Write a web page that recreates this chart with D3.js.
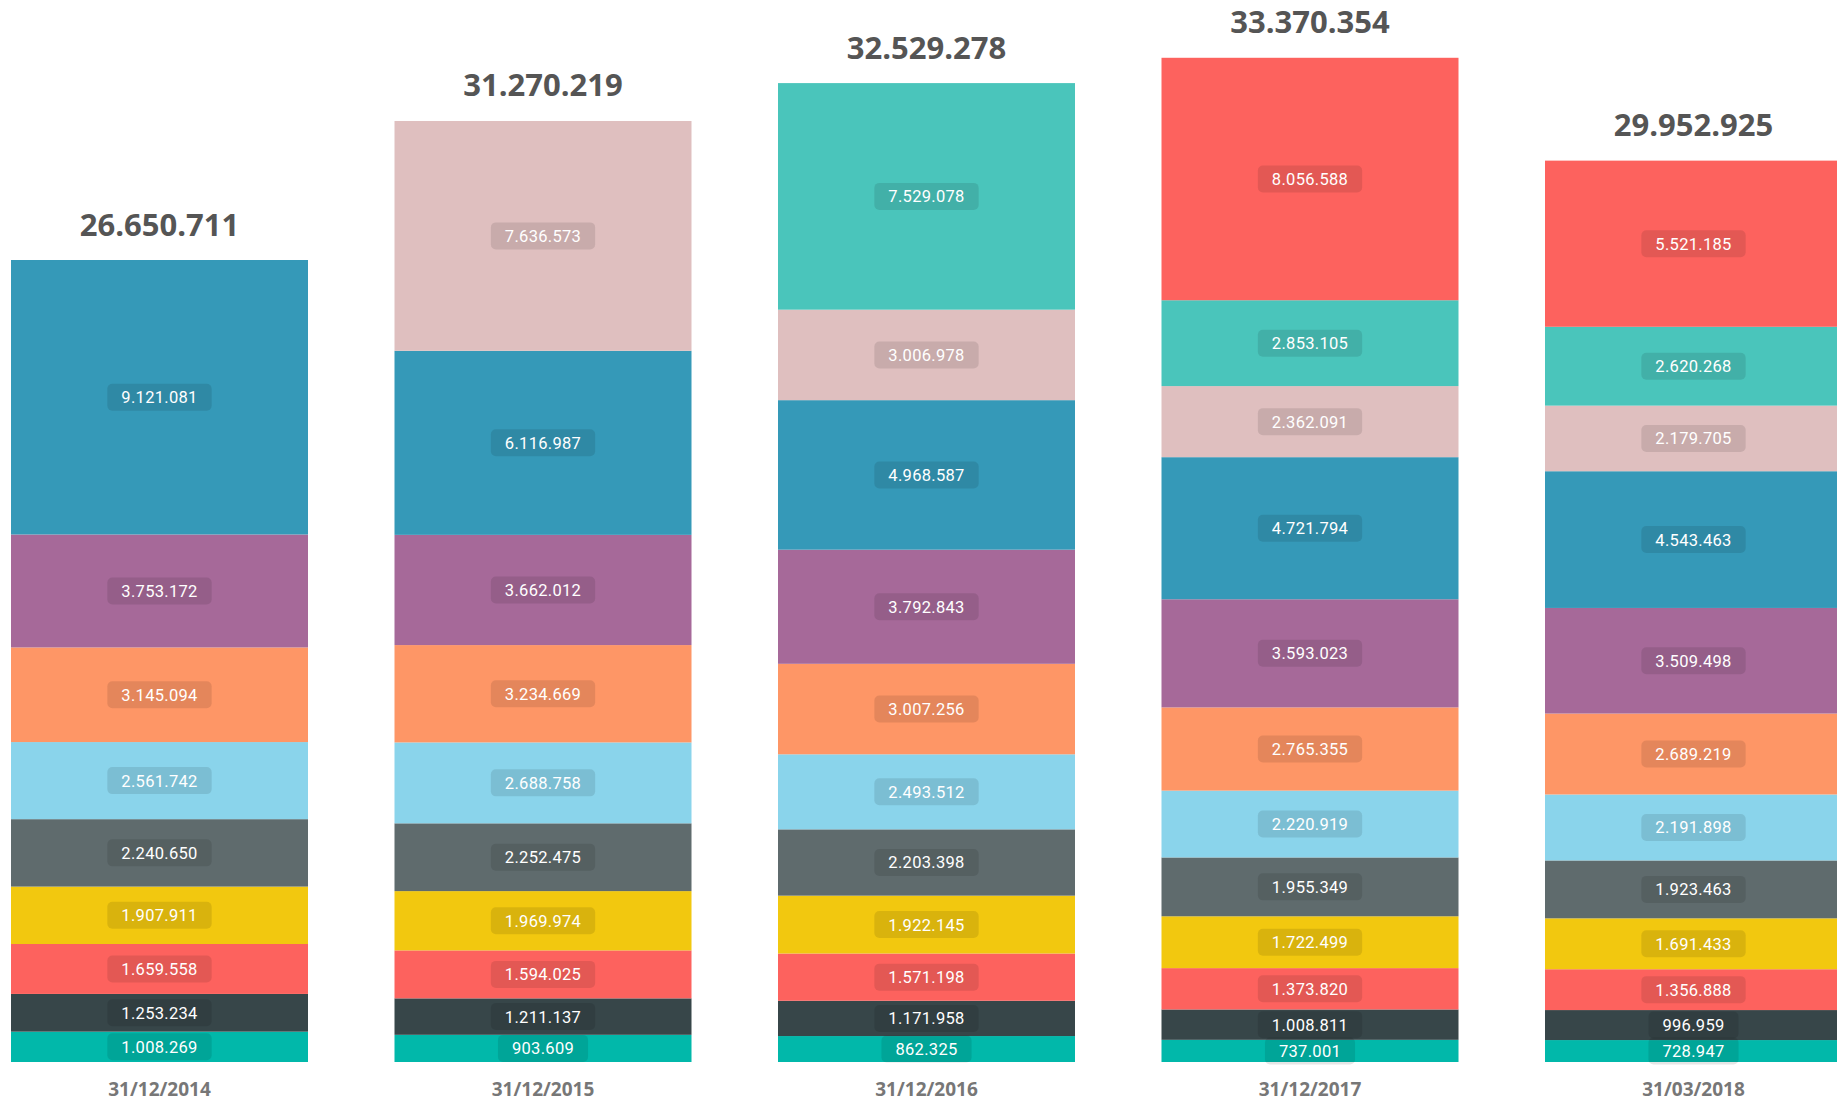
<!DOCTYPE html>
<html>
<head>
<meta charset="utf-8">
<script src="https://cdn.jsdelivr.net/npm/d3@7"></script>
<style>
  body { margin: 0; background: #fff; overflow: hidden; }
</style>
</head>
<body>
<div id="chart-area"></div>
<script>

// Data (bottom segment first)
let dates = ["31/12/2014", "31/12/2015", "31/12/2016", "31/12/2017", "31/03/2018"];
let totals = [26650711, 31270219, 32529278, 33370354, 29952925];

let serie1  = [1008269, 903609, 862325, 737001, 728947];
let serie2  = [1253234, 1211137, 1171958, 1008811, 996959];
let serie3  = [1659558, 1594025, 1571198, 1373820, 1356888];
let serie4  = [1907911, 1969974, 1922145, 1722499, 1691433];
let serie5  = [2240650, 2252475, 2203398, 1955349, 1923463];
let serie6  = [2561742, 2688758, 2493512, 2220919, 2191898];
let serie7  = [3145094, 3234669, 3007256, 2765355, 2689219];
let serie8  = [3753172, 3662012, 3792843, 3593023, 3509498];
let serie9  = [9121081, 6116987, 4968587, 4721794, 4543463];
let serie10 = [0, 7636573, 3006978, 2362091, 2179705];
let serie11 = [0, 0, 7529078, 2853105, 2620268];
let serie12 = [0, 0, 0, 8056588, 5521185];

let seriesList = [serie1, serie2, serie3, serie4, serie5, serie6, serie7, serie8, serie9, serie10, serie11, serie12];
let keys = seriesList.map((s, i) => "s" + (i + 1));

let colors = ["#01B8AA", "#374649", "#FD625E", "#F2C80F", "#5F6B6D", "#8AD4EB",
              "#FE9666", "#A66999", "#3599B8", "#DFBFBF", "#4AC5BB", "#FD625E"];

// Build table for d3.stack
let table = dates.map(function (d, j) {
    let row = {date: d};
    keys.forEach(function (k, i) { row[k] = seriesList[i][j]; });
    return row;
});

let locale = d3.formatLocale({decimal: ",", thousands: ".", grouping: [3], currency: ["", ""]});
let fmt = locale.format(",d");

// SVG drawing area
let width = 1837, height = 1101;

let svg = d3.select("#chart-area").append("svg")
    .attr("width", width)
    .attr("height", height);

// Scales
let step = 383.5, barWidth = 297;
let x = d3.scaleBand()
    .domain(dates)
    .range([11, 11 + step * (dates.length - 1) + barWidth])
    .paddingInner((step - barWidth) / step)
    .paddingOuter(0);

let y = d3.scaleLinear()
    .domain([0, totals[0]])
    .range([1062, 260]);

let stacked = d3.stack().keys(keys)(table);

// Segments
let layers = svg.selectAll(".layer")
    .data(stacked)
    .enter().append("g")
    .attr("class", "layer")
    .attr("fill", (d, i) => colors[i]);

layers.selectAll("rect")
    .data(d => d.filter(p => p[1] - p[0] > 0))
    .enter().append("rect")
    .attr("x", d => x(d.data.date))
    .attr("y", d => y(d[1]))
    .attr("width", x.bandwidth())
    .attr("height", d => y(d[0]) - y(d[1]));

// Segment labels
let labelGroup = svg.append("g").attr("class", "seg-labels");

stacked.forEach(function (layer) {
    layer.forEach(function (p) {
        let v = p[1] - p[0];
        if (v <= 0) return;
        let cx = x(p.data.date) + x.bandwidth() / 2;
        let cy = (y(p[0]) + y(p[1])) / 2;
        let g = labelGroup.append("g");
        let box = g.append("rect")
            .attr("fill", "#000")
            .attr("fill-opacity", 0.1)
            .attr("rx", 5);
        let t = g.append("text")
            .attr("x", cx)
            .attr("y", cy)
            .attr("dy", "0.36em")
            .attr("text-anchor", "middle")
            .style("font-family", "Roboto, sans-serif")
            .style("font-size", "16.5px")
            .style("letter-spacing", "0.3px")
            .attr("fill", "#fff")
            .text(fmt(v));
        let w = t.node().getComputedTextLength() + 28;
        box.attr("x", cx - w / 2)
            .attr("y", cy - 13.5)
            .attr("width", w)
            .attr("height", 27);
    });
});

// Totals
svg.selectAll(".total")
    .data(dates)
    .enter().append("text")
    .attr("class", "total")
    .attr("x", d => x(d) + x.bandwidth() / 2)
    .attr("y", (d, i) => Math.max(y(totals[i]) - 24.5, 33))
    .attr("text-anchor", "middle")
    .style("font-family", "'Open Sans', sans-serif")
    .style("font-weight", "bold")
    .style("font-size", "31px")
    .attr("fill", "#555")
    .text((d, i) => fmt(totals[i]));

// Category axis labels
svg.selectAll(".date-label")
    .data(dates)
    .enter().append("text")
    .attr("class", "date-label")
    .attr("x", d => x(d) + x.bandwidth() / 2)
    .attr("y", 1096)
    .attr("text-anchor", "middle")
    .style("font-family", "'Open Sans', sans-serif")
    .style("font-weight", "bold")
    .style("font-size", "19px")
    .attr("fill", "#777")
    .text(d => d);

</script>
</body>
</html>
